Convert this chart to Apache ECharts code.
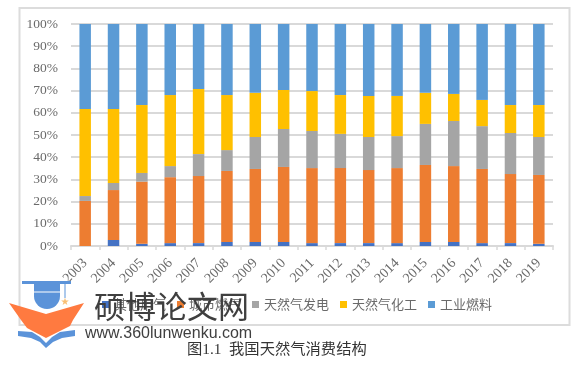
<!DOCTYPE html>
<html><head><meta charset="utf-8">
<style>html,body{margin:0;padding:0;background:#fff}#c{width:583px;height:371px}</style>
<script src="https://cdn.jsdelivr.net/npm/echarts@6/dist/echarts.min.js"></script></head>
<body><div id="c"></div>
<script>
const years=['2003','2004','2005','2006','2007','2008','2009','2010','2011','2012','2013','2014','2015','2016','2017','2018','2019'];
const seriesNames=['其他用气','城市燃气','天然气发电','天然气化工','工业燃料'];
const other=[0,2.7,1,1.3,1.3,1.8,1.8,1.8,1.3,1.3,1.3,1.3,1.8,1.8,1.3,1.3,1];
const city=[20.3,22.5,28,29.7,30.2,32,32.9,33.8,33.8,33.8,32.9,33.8,34.7,34.2,33.4,31.1,31];
const power=[2.2,3.2,3.9,5,9.9,9.4,14.4,17.1,16.7,15.4,14.9,14.4,18.5,20.3,19.3,18.5,17.1];
const chem=[39.2,33.3,30.6,32,29.3,24.8,19.9,17.6,18,17.5,18.5,18.1,14,12.2,11.8,12.6,14.4];
const fuel=[38.3,38.3,36.5,32,29.3,32,31,29.7,30.2,32,32.4,32.4,31,31.5,34.2,36.5,36.5];
const colors=['#4472c4','#ed7d31','#a5a5a5','#ffc000','#5b9bd5'];
const values=[other,city,power,chem,fuel];
const chart=echarts.init(document.getElementById('c'),null,{renderer:'canvas'});
const serif='"Liberation Serif","Noto Sans CJK SC",serif';
chart.setOption({
 animation:false,
 grid:{left:71,right:30,top:24,bottom:125,containLabel:false},
 legend:{show:true,left:97,top:293,itemWidth:7,itemHeight:7,itemGap:11,icon:'rect',
  textStyle:{fontFamily:'"Noto Sans CJK SC"',fontSize:13,color:'#6a6a6a'},
  data:seriesNames.map((n,i)=>i===3?{name:n,textStyle:{padding:[0,11,0,0]}}:{name:n})},
 xAxis:{type:'category',data:years,
  axisLine:{lineStyle:{color:'#d9d9d9',width:2}},
  axisTick:{show:true,alignWithLabel:false,length:4,lineStyle:{color:'#d9d9d9',width:1.5}},
  axisLabel:{rotate:45,fontFamily:serif,fontSize:14,color:'#6a6a6a',margin:15,interval:0}},
 yAxis:{type:'value',min:0,max:100,interval:10,
  axisLine:{show:false},axisTick:{show:false},
  splitLine:{lineStyle:{color:'#d9d9d9',width:2}},
  axisLabel:{formatter:'{value}%',fontFamily:serif,fontSize:13.5,color:'#6a6a6a',margin:13}},
 series:values.map((v,i)=>({name:seriesNames[i],type:'bar',stack:'s',data:v,barWidth:11.5,
  itemStyle:{color:colors[i]}})),
 graphic:[
  {type:'rect',silent:true,z:-1,shape:{x:19.5,y:8,width:550,height:317},style:{fill:'#fff',stroke:'#dcdcdc',lineWidth:2}},
  {type:'rect',z:50,shape:{x:22,y:281,width:49,height:3},style:{fill:'#5b93d9'}},
  {type:'rect',z:50,shape:{x:64.5,y:284,width:1,height:14},style:{fill:'#5b93d9'}},
  {type:'rect',z:50,shape:{x:34,y:284,width:26,height:7.5},style:{fill:'#5b93d9'}},
  {type:'sector',z:50,shape:{cx:47,cy:296,r:13,r0:0,startAngle:0,endAngle:Math.PI},style:{fill:'#5b93d9'}},
  {type:'rect',z:50,shape:{x:34,y:292.5,width:26,height:3.6},style:{fill:'#5b93d9'}},
  {type:'polygon',z:50,shape:{points:[[9,303],[46,314],[84,303],[73,320],[70,326],[46,338],[27,328],[21,320]]},style:{fill:'#ff7a40'}},
  {type:'polygon',z:50,shape:{points:[[18,331],[32,332],[40,337],[46,343],[52,337],[60,332],[75,330],[75,336],[62,338],[53,342],[46,348],[40,342],[31,338],[18,336]]},style:{fill:'#5b93d9'}},
  {type:'text',z:50,style:{x:65,y:302,text:'★',fontSize:10,fontFamily:'"DejaVu Sans"',fill:'#f9bf73',align:'center',verticalAlign:'middle'}},
  {type:'text',z:50,style:{x:94,y:291,text:'硕博论文网',fontFamily:'"Noto Sans CJK SC"',fontSize:31,fill:'#3f3f3f',verticalAlign:'top'}},
  {type:'text',z:50,style:{x:85,y:334,text:'www.360lunwenku.com',fontFamily:'"Liberation Sans"',fontSize:16,fill:'#3f3f3f',verticalAlign:'middle'}},
  {type:'text',z:50,style:{x:187,y:350,text:'图1.1  我国天然气消费结构',fontFamily:'"Liberation Serif","Noto Sans CJK SC"',fontSize:15.3,fill:'#333',verticalAlign:'middle'}}
 ]
});
</script></body></html>
